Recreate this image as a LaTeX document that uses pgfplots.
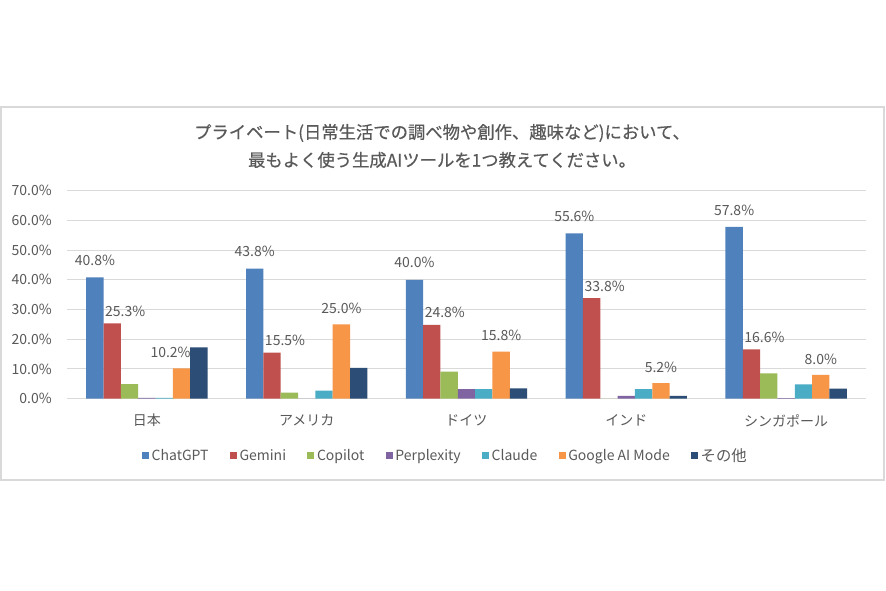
\documentclass[border=0pt]{standalone}
\usepackage{fontspec}
\setmainfont{Noto Sans CJK JP}
\newfontfamily\titlefont[FakeBold=0.5]{Noto Sans CJK JP}
\usepackage{pgfplots}
\pgfplotsset{compat=1.18}
\usepackage{pgfplotstable}
\definecolor{txt}{HTML}{595959}
\definecolor{gridc}{HTML}{D9D9D9}
\definecolor{framec}{HTML}{D9D9D9}
\definecolor{c1}{HTML}{4F81BD}
\definecolor{c2}{HTML}{C0504D}
\definecolor{c3}{HTML}{9BBB59}
\definecolor{c4}{HTML}{8064A2}
\definecolor{c5}{HTML}{4BACC6}
\definecolor{c6}{HTML}{F79646}
\definecolor{c7}{HTML}{2C4D75}
\pgfplotstableread{
x chat gem cop per cla goo oth gdx
0 40.8 25.3 4.9 0.3 0.3 10.2 17.3 -8.25
1 43.8 15.5 2.0 0.0 2.7 25.0 10.4 0
2 40.0 24.8 9.1 3.2 3.2 15.8 3.5 0
3 55.6 33.8 0.0 0.9 3.2 5.2 0.9 0
4 57.8 16.6 8.5 0.2 4.8 8.0 3.4 0
}\data
\newcommand{\lblfont}{\fontsize{10.5}{12}\selectfont}
\begin{document}
\begin{tikzpicture}
\path[use as bounding box, fill=white] (0pt,0pt) rectangle (664.5pt,442.5pt);
\draw[color=framec, line width=0.9pt] (0.75pt,82.5pt) rectangle (663pt,362.25pt);
\node[font=\titlefont\fontsize{13}{15}\selectfont, text=txt, inner sep=0pt] at (331.5pt,342.75pt) {プライベート(日常生活での調べ物や創作、趣味など)において、};
\node[font=\titlefont\fontsize{13}{15}\selectfont, text=txt, inner sep=0pt] at (331.5pt,322.5pt) {最もよく使う生成AIツールを1つ教えてください。};
\begin{axis}[
  at={(50.25pt,143.5pt)}, anchor=south west,
  scale only axis, width=599.25pt, height=156pt,
  ybar=0pt, bar width=13pt,
  xmin=-0.5, xmax=4.5, ymin=0, ymax=70,
  xtick={0,1,2,3,4},
  xticklabels={日本,アメリカ,ドイツ,インド,シンガポール},
  ytick={0,10,...,70},
  /pgf/number format/assume math mode=true,
  yticklabel={\pgfmathprintnumber[fixed,fixed zerofill,precision=1]{\tick}\%},
  axis line style={draw=none},
  major tick length=0pt,
  ymajorgrids, grid style={color=gridc, line width=0.75pt},
  ticklabel style={font=\lblfont, text=txt},
  yticklabel style={anchor=east, inner sep=0pt, xshift=-11.25pt},
  xticklabel style={anchor=center, inner sep=0pt, yshift=-16.5pt},
  legend columns=7,
  legend style={at={(axis description cs:0.474,-0.274)}, anchor=center, draw=none, fill=none, font=\lblfont, text=txt,
    /tikz/every even column/.append style={column sep=14pt}},
  legend cell align=left,
  legend image code/.code={\fill[#1] (0pt,-2.6pt) rectangle (5.2pt,2.6pt);},
]
\addplot[fill=c1, draw=none, nodes near coords={\pgfmathprintnumber[fixed,fixed zerofill,precision=1]{\pgfplotspointmeta}\%},
  every node near coord/.append style={anchor=center, yshift=12.75pt, font=\lblfont, text=txt}] table[x=x,y=chat]{\data};
\addlegendentry{ChatGPT}
\addplot[fill=c2, draw=none, nodes near coords={\pgfmathprintnumber[fixed,fixed zerofill,precision=1]{\pgfplotspointmeta}\%},
  every node near coord/.append style={anchor=center, yshift=9.25pt, xshift=9.75pt, font=\lblfont, text=txt}] table[x=x,y=gem]{\data};
\addlegendentry{Gemini}
\addplot[fill=c3, draw=none] table[x=x,y=cop]{\data};
\addlegendentry{Copilot}
\addplot[fill=c4, draw=none] table[x=x,y=per]{\data};
\addlegendentry{Perplexity}
\addplot[fill=c5, draw=none] table[x=x,y=cla]{\data};
\addlegendentry{Claude}
\addplot[fill=c6, draw=none, visualization depends on={\thisrow{gdx} \as \gdx},
  nodes near coords={\pgfmathprintnumber[fixed,fixed zerofill,precision=1]{\pgfplotspointmeta}\%},
  every node near coord/.append style={anchor=center, yshift=12pt, xshift=\gdx pt, font=\lblfont, text=txt}] table[x=x,y=goo]{\data};
\addlegendentry{Google AI Mode}
\addplot[fill=c7, draw=none] table[x=x,y=oth]{\data};
\addlegendentry{{\fontsize{11.5}{12}\selectfont その他}}
\end{axis}
\end{tikzpicture}
\end{document}
